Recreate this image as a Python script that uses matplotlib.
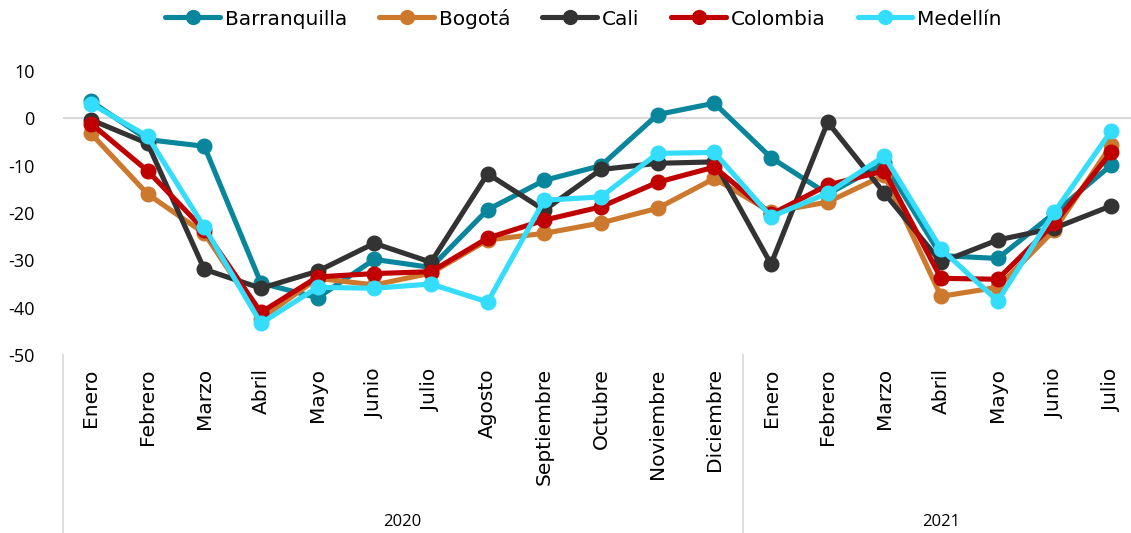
import numpy as np
import matplotlib
matplotlib.use("Agg")
import matplotlib.pyplot as plt

# month categories, two years
months = ["Enero", "Febrero", "Marzo", "Abril", "Mayo", "Junio", "Julio",
          "Agosto", "Septiembre", "Octubre", "Noviembre", "Diciembre",
          "Enero", "Febrero", "Marzo", "Abril", "Mayo", "Junio", "Julio"]
years = ["2020", "2021"]
year_counts = [12, 7]

barranquilla = [3.6, -4.5, -5.9, -34.8, -37.9, -29.8, -31.5, -19.3, -13.1, -10.0, 0.8, 3.2,
                -8.3, -16.0, -9.5, -29.0, -29.6, -20.0, -9.9]
bogota = [-3.2, -16.0, -24.3, -42.3, -33.8, -35.2, -32.7, -25.7, -24.3, -22.1, -19.0, -12.7,
          -19.8, -17.7, -12.0, -37.6, -35.7, -23.6, -5.7]
cali = [-0.3, -5.3, -31.9, -35.9, -32.3, -26.4, -30.4, -11.7, -19.4, -10.8, -9.5, -9.2,
        -30.8, -0.8, -15.8, -30.4, -25.7, -23.2, -18.5]
colombia = [-1.1, -11.1, -23.6, -41.0, -33.5, -32.8, -32.4, -25.3, -21.5, -18.7, -13.5, -10.3,
            -20.3, -14.1, -11.1, -33.8, -34.0, -22.2, -7.2]
medellin = [3.1, -3.8, -23.0, -43.3, -35.7, -35.9, -35.0, -38.8, -17.3, -16.6, -7.4, -7.2,
            -20.8, -15.8, -8.0, -27.6, -38.6, -19.8, -2.7]
yticks = [10, 0, -10, -20, -30, -40, -50]

series = [("Barranquilla", barranquilla, "#0A869C"),
          ("Bogotá", bogota, "#CC792E"),
          ("Cali", cali, "#333333"),
          ("Colombia", colombia, "#C00000"),
          ("Medellín", medellin, "#33DDFB")]

fig = plt.figure(figsize=(11.31, 5.33), dpi=100)
# axes extends a little past the right edge, like the reference
ax = fig.add_axes([62.6 / 1131, 1 - 355 / 533, (1139.4 - 62.6) / 1131, (355 - 71) / 533])

x = np.arange(len(months))
for name, vals, col in series:
    ax.plot(x, vals, color=col, lw=3.7, marker="o", markersize=10.5, label=name,
            solid_joinstyle="round", solid_capstyle="round", clip_on=False)

ax.set_xlim(-0.5, len(months) - 0.5)
ax.set_ylim(-50, 10)
ax.axhline(0, color="#D9D9D9", lw=1.5, zorder=0)

for s in ax.spines.values():
    s.set_visible(False)
ax.set_yticks(yticks)
ax.set_yticklabels([str(v) for v in yticks])  # plain hyphen like the original
ax.tick_params(axis="y", length=0, pad=20, labelsize=13)
for lab in ax.get_yticklabels():
    lab.set_family("Open Sans")
ax.set_xticks([])

# month labels
for i, m in enumerate(months):
    ax.text(i, -52.8, m, rotation=90, ha="center", va="top", fontsize=14.5,
            color="black")

# year labels and separators
start = 0
for yr, n in zip(years, year_counts):
    ax.text(start - 0.5 + n / 2, -85.2, yr, ha="center", va="center", fontsize=12,
            family="Open Sans")
    start += n
for sep in [-0.5, 11.5]:
    ax.plot([sep, sep], [-50, -88.5], color="#D9D9D9", lw=1.2, clip_on=False)

leg = fig.legend(loc="upper center", bbox_to_anchor=(0.516, 1.018), ncol=5, frameon=False,
                 fontsize=14.5, handlelength=2.7, columnspacing=1.6, handletextpad=0.25,
                 markerscale=0.95)

fig.savefig("out.png", dpi=100)
